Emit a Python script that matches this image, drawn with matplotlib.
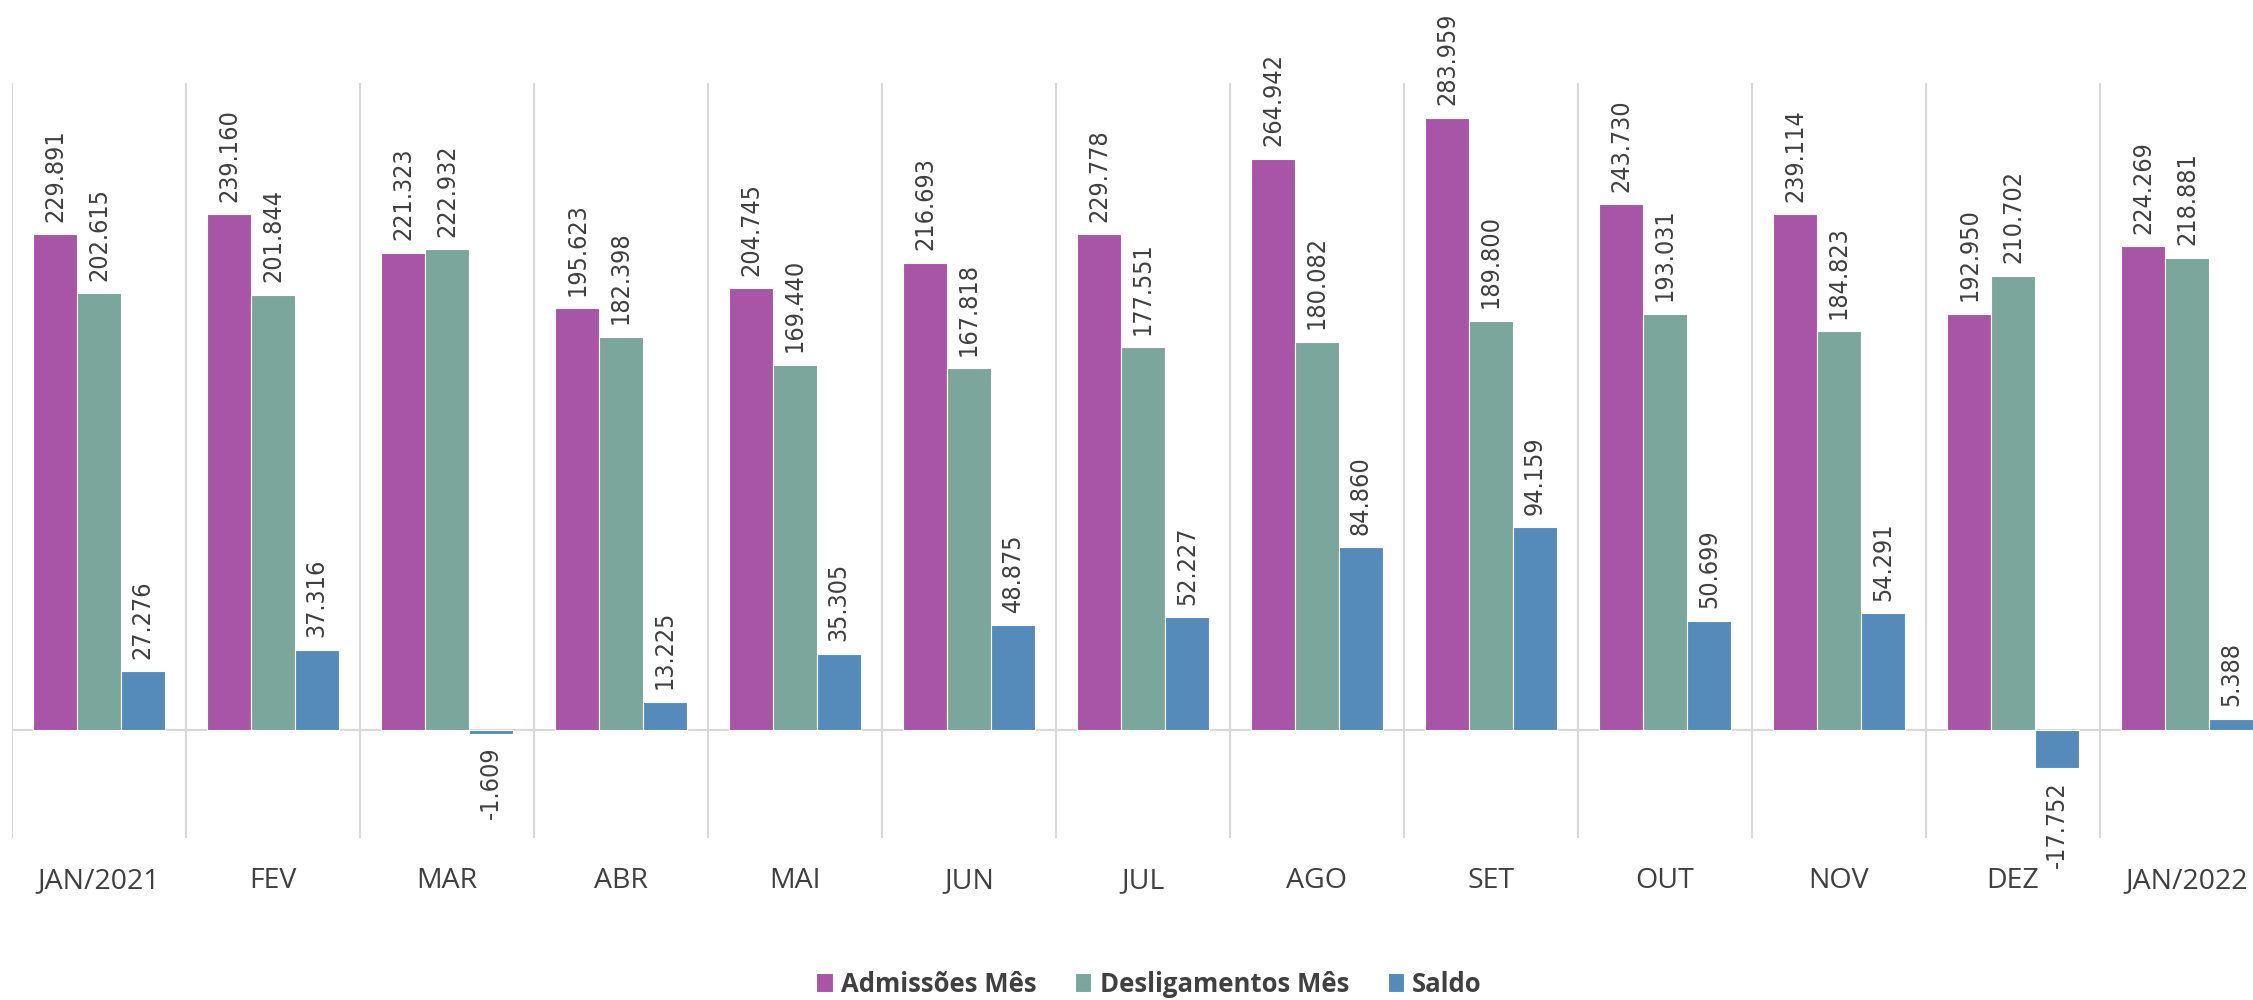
import matplotlib.pyplot as plt
import numpy as np

categorias = ['JAN/2021', 'FEV', 'MAR', 'ABR', 'MAI', 'JUN', 'JUL', 'AGO', 'SET', 'OUT', 'NOV', 'DEZ', 'JAN/2022']
admissoes = [229891, 239160, 221323, 195623, 204745, 216693, 229778, 264942, 283959, 243730, 239114, 192950, 224269]
desligamentos = [202615, 201844, 222932, 182398, 169440, 167818, 177551, 180082, 189800, 193031, 184823, 210702, 218881]
saldo = [27276, 37316, -1609, 13225, 35305, 48875, 52227, 84860, 94159, 50699, 54291, -17752, 5388]

series = [
    ('Admissões Mês', admissoes, '#A855A8'),
    ('Desligamentos Mês', desligamentos, '#7BA69B'),
    ('Saldo', saldo, '#548BBB'),
]

text_color = '#404040'

fig = plt.figure(figsize=(22.53, 10), dpi=100)
ax = fig.add_axes([0.0053, 0.162, 0.9947, 0.755])

x = np.arange(len(categorias))
w = 0.252
for i, (nome, vals, cor) in enumerate(series):
    pos = x + (i - 1) * w
    ax.bar(pos, vals, width=w, color=cor, edgecolor='white', linewidth=0.8, label=nome, zorder=3)
    for px, v in zip(pos, vals):
        txt = f"{v:,}".replace(',', '.')
        off, va = (9, 'bottom') if v >= 0 else (-9, 'top')
        ax.annotate(txt, (px, v), xytext=(0, off), textcoords='offset points',
                    rotation=90, ha='center', va=va, fontsize=18,
                    family='DejaVu Sans', fontstretch='condensed', color=text_color)

# separadores entre categorias e linha do zero
for b in np.arange(-0.5, len(categorias) + 0.5, 1):
    ax.axvline(b, color='#D9D9D9', linewidth=1.5, zorder=1)
ax.axhline(0, color='#D9D9D9', linewidth=1.5, zorder=2)

ax.set_ylim(-50000, 300000)
ax.set_xlim(-0.5, -0.5 + 2241 / 174)
ax.set_yticks([])
ax.set_xticks(x)
ax.set_xticklabels(categorias, fontsize=20.5, family='Open Sans', color=text_color)
ax.tick_params(axis='x', length=0, pad=21)
for s in ax.spines.values():
    s.set_visible(False)

fig.legend(loc='center', bbox_to_anchor=(0.51, 0.016), ncol=3, frameon=False,
           prop={'family': 'Open Sans', 'weight': 'bold', 'size': 18.5},
           labelcolor=text_color, handlelength=0.64, handleheight=0.72,
           handletextpad=0.32, columnspacing=1.5)

fig.savefig('out.png', dpi=100)
